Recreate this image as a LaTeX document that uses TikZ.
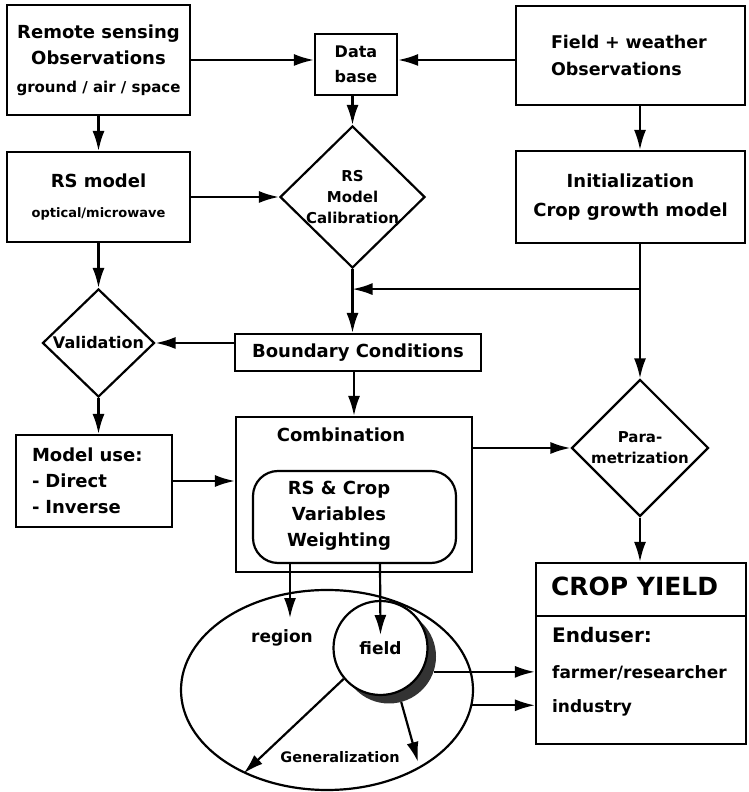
\documentclass[tikz,border=0pt]{standalone}
\usepackage{fontspec}
\setmainfont{DejaVu Sans}
\usetikzlibrary{shapes,arrows.meta,positioning}
\newcommand{\fsz}[2]{\fontsize{#1pt}{#2pt}\selectfont\bfseries}
\tikzstyle{block} = [rectangle, draw, line width=2.2pt, align=center, inner sep=0pt]
\tikzstyle{decision} = [diamond, draw, line width=2.2pt, align=center, inner sep=0pt]
\tikzstyle{rblock} = [rectangle, draw, rounded corners=25pt, line width=2.2pt]
\tikzstyle{line} = [draw, line width=2.2pt, -{Latex[length=20pt,width=12pt]}]
\tikzstyle{every node}=[font=\fsz{18}{26}, inner sep=0pt]

\begin{document}
\begin{tikzpicture}[x=1pt, y=1pt, node distance=5em]
	\useasboundingbox (0,0) rectangle (748,792);
	% Place nodes
	\node [block, minimum width=183pt, minimum height=110pt] (rs) at (98.5,732) {Remote sensing\\Observations\\[2pt]{\fsz{15}{20}ground / air / space}};
	\node [block, below of=rs, node distance=137pt, minimum width=183pt, minimum height=90pt] (rsm) {RS model\\[4pt]{\fsz{13}{18}optical/microwave}};
	\node [decision, right of=rsm, node distance=254pt, minimum width=145pt, minimum height=142pt, inner sep=-4pt, font=\fsz{15}{21}] (cal) {RS\\Model\\Calibration};
	\node [block, above of=cal, node distance=132.5pt, xshift=3.5pt, minimum width=82pt, minimum height=61pt, font=\fsz{16}{25}] (db) {Data\\base};
	\node [block, right of=cal, node distance=278pt, minimum width=229pt, minimum height=92pt, font=\fsz{18}{29}] (init) {Initialization\\Crop growth model};
	\node [block, above of=init, node distance=141.5pt, minimum height=99pt, text width=159pt, inner xsep=35pt, align=left, font=\fsz{17.5}{27}] (fw) {Field + weather\\Observations};
	\node [decision, below of=rsm, node distance=146pt, minimum width=112pt, minimum height=108pt, font=\fsz{16}{20}] (val) {Validation};
	\node [block, below of=val, node distance=138pt, xshift=-4.5pt, minimum height=92pt, text width=124pt, inner xsep=16pt, align=left] (mu) {Model use:\\- Direct\\- Inverse};
	\node [block, below of=cal, node distance=155.5pt, xshift=5.5pt, minimum width=246pt, minimum height=37pt] (bc) {Boundary Conditions};
	\node [block, below of=bc, node distance=142pt, xshift=-4pt, minimum width=236pt, minimum height=155pt] (comb) {};
	\node [above of=comb, node distance=59.5pt, xshift=-13pt] (combtitle) {Combination};
	\node [rblock, below of=comb, node distance=22.5pt, xshift=0.5pt, minimum width=203pt, minimum height=92pt] (weight) {};
	\node [left of=weight, node distance=15.5pt, yshift=1pt, align=center] (weighttxt) {RS \& Crop\\Variables\\Weighting};
	\node [decision, below of=init, node distance=251pt, xshift=9.5pt, minimum width=137pt, minimum height=137pt, font=\fsz{15}{21}] (par) {Para-\\metrization};
	\node [block, below of=par, node distance=205.5pt, xshift=1pt, minimum width=210pt, minimum height=181pt] (yield) {};
	\node [anchor=west, font=\fsz{25}{30}] (yieldtitle) at ([xshift=16pt,yshift=-25pt]yield.north west) {CROP YIELD};
	\node [anchor=west, font=\fsz{20}{24}] (enduser) at ([xshift=17pt,yshift=-73pt]yield.north west) {Enduser:};
	\node [anchor=west, font=\fsz{17}{22}] (farmer) at ([xshift=17pt,yshift=-111pt]yield.north west) {farmer/researcher};
	\node [anchor=west, font=\fsz{17}{22}] (industry) at ([xshift=17pt,yshift=-146pt]yield.north west) {industry};
	
	% scale ellipse with field
	\node [ellipse, draw, line width=2.2pt, minimum width=292pt, minimum height=200pt] (area) at (327,102) {};
	\node [circle, fill=black!80, minimum size=94pt] (shade) at (389,135.5) {};
	\node [circle, draw, fill=white, line width=2.2pt, minimum size=94pt, font=\fsz{17}{20}] (field) at (380.5,144) {field};
	\node [font=\fsz{17}{20}] (region) at (282,154) {region};
	\node [font=\fsz{14.5}{18}] (general) at (340,35) {Generalization};
	\coordinate (genend) at (418,30);
	
	% Draw edges
	\draw [line width=2.2pt] ([yshift=-54pt]yield.north west) -- ([yshift=-54pt]yield.north east);
	\path [line] (rs.east) -- (rs.east -| db.west);
	\path [line] (fw.west |- rs.east) -- (db.east |- rs.east);
	\path [line] (cal.north |- db.south) -- (cal.north);
	\path [line] (rs.south) -- (rsm.north);
	\path [line] (rsm.east) -- (cal.west);
	\path [line] (fw.south -| par.north) -- (init.north -| par.north);
	\path [line] (rsm.south) -- (val.north);
	\path [line] (init.south -| par.north) -- (par.north);
	\path (init.south -| par.north) ++(0,-45) coordinate (branch);
	\path [line] (branch) -- (branch -| cal.south);
	\path [line] (cal.south) -- (cal.south |- bc.north);
	\path [line] (bc.west |- val.east) -- (val.east);
	\path [line] (val.south) -- (val.south |- mu.north);
	\path [line] (comb.north |- bc.south) -- (comb.north);
	\path [line] (mu.east) -- (mu.east -| comb.west);
	\path [line] (comb.east |- par.west) -- (par.west);
	\path [line] (par.south) -- (par.south |- yield.north);
	\path [line] ([xshift=-64.5pt]weight.south) -- ++(0,-54);
	\path [line] ([xshift=25.5pt]weight.south) -- ([yshift=13pt]field.center);
	\path [line] (field.220) -- (area.225);
	\path [line] (shade.-75) -- (genend);
	\path [line] (shade.-19) -- (shade.-19 -| yield.west);
	\path [line] (area.-6) -- (area.-6 -| yield.west);
\end{tikzpicture}
\end{document}
